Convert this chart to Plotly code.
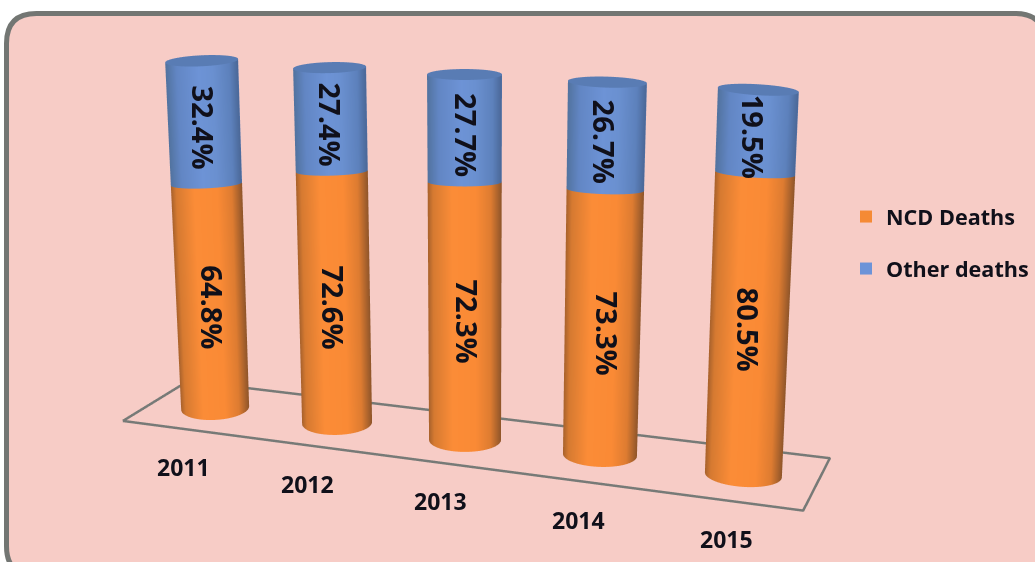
import math
import numpy as np
import plotly.graph_objects as go

# ---- data ----
years = ["2011", "2012", "2013", "2014", "2015"]
ncd_deaths = [64.8, 72.6, 72.3, 73.3, 80.5]
other_deaths = [32.4, 27.4, 27.7, 26.7, 19.5]

# ---- drawing geometry (scene units; 1 unit ~ 1 screen pixel) ----
W, H = 1035, 562
PITCH = math.radians(14)
EYE_DIST = 3.0
ZOOM = 1.999
base_rim_y = [408, 423, 440, 455, 475]
ncd_scale = [3.46, 3.47, 3.57, 3.62, 3.75]
other_scale = [3.80, 3.78, 3.88, 4.03, 4.28]
center_bottom = [215, 337, 465, 600, 743.5]
center_top = [201.5, 329.5, 464.5, 607.5, 758.5]
width_bottom = [68, 70, 72, 74, 77]
width_top = [73, 73, 75, 79, 81]
ring_tilt = [-1.7, -1.0, 0.0, 1.2, 2.4]
ry_bottom, ry_mid, ry_top = 12.0, 4.5, 5.5
ncd_label_pos = [(211.5, 307), (332.5, 307), (466.5, 321), (607.5, 334), (748.5, 330)]
other_label_pos = [(203.5, 127), (330.5, 124), (466.5, 134.5), (604.5, 142), (754.5, 137)]
year_label_pos = [(183, 467), (307.5, 484), (440.5, 501), (578.5, 520), (726.5, 539)]
floor_front_y = -60
floor_back_y = 60
floor_pts = [((122.7, 421), floor_front_y), ((188, 381), floor_back_y),
             ((830, 458.3), floor_back_y), ((803.3, 510.7), floor_front_y),
             ((122.7, 421), floor_front_y)]

ORANGE_SCALE = [(-1, "#A9622C"), (-0.86, "#D67A31"), (-0.35, "#FB8C37"), (0.3, "#FA8A35"),
                (0.7, "#DE7C31"), (1, "#8F552A")]
BLUE_SCALE = [(-1, "#52739F"), (-0.7, "#6286C4"), (-0.1, "#6D93D6"), (0.3, "#6A90D0"),
              (0.75, "#5D81BC"), (1, "#4A6796"), (1.001, "#597CB4"), (2, "#597CB4")]
SP, CP = math.sin(PITCH), math.cos(PITCH)


def norm_scale(stops, lo=-1.0, hi=2.0):
    out = [((v - lo) / (hi - lo), c) for v, c in stops]
    if out[-1][0] < 1:
        out.append((1.0, out[-1][1]))
    return out


def screen_z(py, y=0.0):
    return H - py - y * SP


def ring(z, ry, i, z0, zt, theta):
    f = (z - z0) / (zt - z0)
    c = center_bottom[i] + (center_top[i] - center_bottom[i]) * f
    hw = (width_bottom[i] + (width_top[i] - width_bottom[i]) * f) / 2
    return c + hw * np.cos(theta), ry / SP * np.sin(theta), z - ring_tilt[i] * np.cos(theta), c


def frustum(series_lo, series_hi, i, ry_lo, ry_hi, cap=False, n=96):
    z0 = screen_z(base_rim_y[i])
    zt = z0 + ncd_deaths[i] * ncd_scale[i] + other_deaths[i] * other_scale[i]
    theta = np.linspace(0, 2 * math.pi, n, endpoint=False)
    xs, ys, zs, us, tri = [], [], [], [], []
    rows = [(series_lo, ry_lo), (series_hi, ry_hi)]
    for z, ry in rows:
        rx_, ry_, rz_, _ = ring(z, ry, i, z0, zt, theta)
        xs.extend(rx_); ys.extend(ry_); zs.extend(rz_); us.extend(np.cos(theta))
    for k in range(n):
        a, b = k, (k + 1) % n
        tri.append((a, b, a + n))
        tri.append((b, b + n, a + n))
    if cap:
        start = len(xs)
        z, ry = rows[1]
        rx_, ry_, rz_, c = ring(z, ry, i, z0, zt, theta)
        xs.extend(rx_); ys.extend(ry_); zs.extend(rz_); us.extend([2.0] * n)
        xs.append(c); ys.append(0.0); zs.append(z); us.append(2.0)
        for k in range(n):
            tri.append((start + k, start + (k + 1) % n, start + n))
    return xs, ys, zs, us, tri


def merged(parts):
    X, Y, Z, U, I, J, K = [], [], [], [], [], [], []
    for xs, ys, zs, us, tri in parts:
        off = len(X)
        X += list(xs); Y += list(ys); Z += list(zs); U += list(us)
        for a, b, c in tri:
            I.append(a + off); J.append(b + off); K.append(c + off)
    return X, Y, Z, U, I, J, K


lo_parts, hi_parts = [], []
for i in range(len(years)):
    z0 = screen_z(base_rim_y[i])
    z1 = z0 + ncd_deaths[i] * ncd_scale[i]
    z2 = z1 + other_deaths[i] * other_scale[i]
    lo_parts.append(frustum(z0, z1, i, ry_bottom, ry_mid))
    hi_parts.append(frustum(z1, z2, i, ry_mid, ry_top, cap=True))

LIGHT = dict(ambient=1.0, diffuse=0.0, specular=0.0, roughness=1.0, fresnel=0.0)
fig = go.Figure()
for parts, stops, name in [(lo_parts, ORANGE_SCALE, "NCD Deaths"), (hi_parts, BLUE_SCALE, "Other deaths")]:
    X, Y, Z, U, I, J, K = merged(parts)
    fig.add_trace(go.Mesh3d(x=X, y=Y, z=Z, i=I, j=J, k=K, intensity=U, intensitymode="vertex",
                            colorscale=norm_scale(stops), cmin=-1, cmax=2, showscale=False,
                            lighting=LIGHT, flatshading=False, hoverinfo="skip", name=name,
                            showlegend=False))

fig.add_trace(go.Scatter3d(
    x=[p[0][0] for p in floor_pts], y=[p[1] for p in floor_pts],
    z=[screen_z(p[0][1], p[1]) for p in floor_pts],
    mode="lines", line=dict(color="#777A77", width=5), hoverinfo="skip", showlegend=False))

# legend entries
fig.add_trace(go.Scatter3d(x=[None], y=[None], z=[None], mode="markers", name="NCD Deaths",
                           marker=dict(symbol="square", size=19, color="#F58A35"), legend="legend"))
fig.add_trace(go.Scatter3d(x=[None], y=[None], z=[None], mode="markers", name="Other deaths",
                           marker=dict(symbol="square", size=19, color="#6C93D8"), legend="legend2"))

TEXT = "#10101A"
ann = []
for vals, pos in [(ncd_deaths, ncd_label_pos), (other_deaths, other_label_pos)]:
    for v, (px, py) in zip(vals, pos):
        ann.append(dict(x=px, y=0, z=screen_z(py), text=f"<b>{v:.1f}%</b>", textangle=90, showarrow=False,
                        xanchor="center", yanchor="middle",
                        font=dict(family="Open Sans", size=29, color=TEXT)))
for label, (px, py) in zip(years, year_label_pos):
    ann.append(dict(x=px, y=0, z=screen_z(py), text=f"<b>{label}</b>", showarrow=False,
                    xanchor="center", yanchor="middle",
                    font=dict(family="Open Sans", size=23, color=TEXT)))


def px(x):
    return x / W


def py(y):
    return 1 - y / H


L, T, R, B, RAD = 6.5, 13.5, 1045, 576, 30
path = (f"M {px(L+RAD)} {py(T)} L {px(R-RAD)} {py(T)} Q {px(R)} {py(T)} {px(R)} {py(T+RAD)} "
        f"L {px(R)} {py(B-RAD)} Q {px(R)} {py(B)} {px(R-RAD)} {py(B)} L {px(L+RAD)} {py(B)} "
        f"Q {px(L)} {py(B)} {px(L)} {py(B-RAD)} L {px(L)} {py(T+RAD)} Q {px(L)} {py(T)} {px(L+RAD)} {py(T)} Z")

hidden = dict(visible=False, showgrid=False, zeroline=False, showbackground=False, showspikes=False)
legend_common = dict(bgcolor="rgba(0,0,0,0)", xanchor="left", yanchor="middle", itemsizing="constant",
                     font=dict(family="Open Sans", size=21.6, color=TEXT, weight="bold"), borderwidth=0)
fig.update_layout(
    width=W, height=H, margin=dict(l=0, r=0, t=0, b=0, autoexpand=False), paper_bgcolor="white",
    showlegend=True,
    legend=dict(x=px(846), y=py(217), **legend_common),
    legend2=dict(x=px(846), y=py(269), **legend_common),
    shapes=[dict(type="path", xref="paper", yref="paper", path=path, fillcolor="#F7CCC6",
                 line=dict(color="#737673", width=5), layer="below")],
    scene=dict(
        domain=dict(x=[0, 1], y=[0, 1]),
        xaxis=dict(range=[0, W], **hidden), yaxis=dict(range=[-300, 300], **hidden),
        zaxis=dict(range=[0, H], **hidden),
        aspectmode="manual",
        aspectratio=dict(x=ZOOM * W / H, y=ZOOM * 600 / H, z=ZOOM / CP),
        bgcolor="rgba(0,0,0,0)",
        camera=dict(projection=dict(type="orthographic"), up=dict(x=0, y=0, z=1),
                    center=dict(x=0, y=0, z=0),
                    eye=dict(x=0, y=-EYE_DIST * CP, z=EYE_DIST * SP)),
        annotations=ann,
    ),
)
fig.write_html("out.html", config={"displayModeBar": False},
               post_script="document.body.style.margin='0';")
